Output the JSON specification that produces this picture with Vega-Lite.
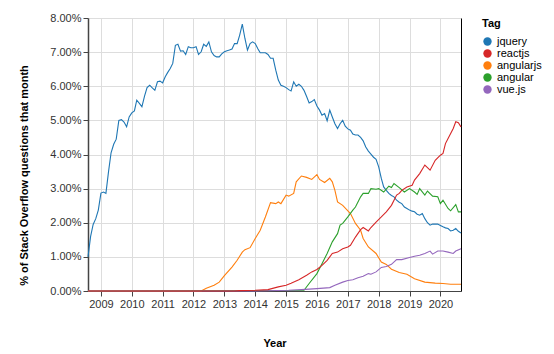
{
  "$schema": "https://vega.github.io/schema/vega-lite/v6.json",
  "width": 373,
  "height": 273,
  "autosize": "none",
  "padding": {"left": 88, "top": 18, "right": 93, "bottom": 63},
  "config": {
    "font": "Liberation Sans",
    "view": {"stroke": null},
    "axis": {
      "labelFontSize": 11,
      "titleFontSize": 11,
      "labelColor": "#333",
      "titleColor": "#000",
      "gridColor": "#ddd",
      "domainColor": "#444",
      "tickColor": "#444",
      "tickSize": 5,
      "labelPadding": 2
    },
    "legend": {
      "titleFontSize": 11,
      "labelFontSize": 11,
      "labelColor": "#000",
      "titleColor": "#000",
      "rowPadding": 0,
      "symbolSize": 70,
      "symbolType": "circle",
      "titlePadding": 7
    }
  },
  "data": {
    "values": [
      {"d":"2008-08","t":"jquery","v":1.0},{"d":"2008-09","t":"jquery","v":1.6},{"d":"2008-10","t":"jquery","v":1.95},{"d":"2008-11","t":"jquery","v":2.12},{"d":"2008-12","t":"jquery","v":2.37},
      {"d":"2009-01","t":"jquery","v":2.87},{"d":"2009-02","t":"jquery","v":2.9},{"d":"2009-03","t":"jquery","v":2.86},{"d":"2009-04","t":"jquery","v":3.5},{"d":"2009-05","t":"jquery","v":4.05},{"d":"2009-06","t":"jquery","v":4.3},{"d":"2009-07","t":"jquery","v":4.45},{"d":"2009-08","t":"jquery","v":5.0},{"d":"2009-09","t":"jquery","v":5.02},{"d":"2009-10","t":"jquery","v":4.95},{"d":"2009-11","t":"jquery","v":4.81},{"d":"2009-12","t":"jquery","v":5.1},
      {"d":"2010-01","t":"jquery","v":5.22},{"d":"2010-02","t":"jquery","v":5.28},{"d":"2010-03","t":"jquery","v":5.59},{"d":"2010-04","t":"jquery","v":5.5},{"d":"2010-05","t":"jquery","v":5.4},{"d":"2010-06","t":"jquery","v":5.71},{"d":"2010-07","t":"jquery","v":5.96},{"d":"2010-08","t":"jquery","v":6.03},{"d":"2010-09","t":"jquery","v":5.95},{"d":"2010-10","t":"jquery","v":5.88},{"d":"2010-11","t":"jquery","v":6.13},{"d":"2010-12","t":"jquery","v":6.15},
      {"d":"2011-01","t":"jquery","v":6.1},{"d":"2011-02","t":"jquery","v":6.28},{"d":"2011-03","t":"jquery","v":6.4},{"d":"2011-04","t":"jquery","v":6.52},{"d":"2011-05","t":"jquery","v":6.67},{"d":"2011-06","t":"jquery","v":7.2},{"d":"2011-07","t":"jquery","v":7.23},{"d":"2011-08","t":"jquery","v":7.03},{"d":"2011-09","t":"jquery","v":7.04},{"d":"2011-10","t":"jquery","v":6.93},{"d":"2011-11","t":"jquery","v":7.16},{"d":"2011-12","t":"jquery","v":7.13},
      {"d":"2012-01","t":"jquery","v":7.13},{"d":"2012-02","t":"jquery","v":7.16},{"d":"2012-03","t":"jquery","v":6.93},{"d":"2012-04","t":"jquery","v":7.01},{"d":"2012-05","t":"jquery","v":7.23},{"d":"2012-06","t":"jquery","v":7.17},{"d":"2012-07","t":"jquery","v":7.3},{"d":"2012-08","t":"jquery","v":7.01},{"d":"2012-09","t":"jquery","v":6.9},{"d":"2012-10","t":"jquery","v":6.86},{"d":"2012-11","t":"jquery","v":6.86},{"d":"2012-12","t":"jquery","v":6.95},
      {"d":"2013-01","t":"jquery","v":7.01},{"d":"2013-02","t":"jquery","v":7.04},{"d":"2013-03","t":"jquery","v":7.06},{"d":"2013-04","t":"jquery","v":7.09},{"d":"2013-05","t":"jquery","v":7.25},{"d":"2013-06","t":"jquery","v":7.25},{"d":"2013-07","t":"jquery","v":7.5},{"d":"2013-08","t":"jquery","v":7.82},{"d":"2013-09","t":"jquery","v":7.4},{"d":"2013-10","t":"jquery","v":7.06},{"d":"2013-11","t":"jquery","v":7.25},{"d":"2013-12","t":"jquery","v":7.3},
      {"d":"2014-01","t":"jquery","v":7.25},{"d":"2014-02","t":"jquery","v":7.1},{"d":"2014-03","t":"jquery","v":6.98},{"d":"2014-04","t":"jquery","v":6.98},{"d":"2014-05","t":"jquery","v":6.98},{"d":"2014-06","t":"jquery","v":6.93},{"d":"2014-07","t":"jquery","v":6.82},{"d":"2014-08","t":"jquery","v":6.82},{"d":"2014-09","t":"jquery","v":6.47},{"d":"2014-10","t":"jquery","v":6.18},{"d":"2014-11","t":"jquery","v":6.03},{"d":"2014-12","t":"jquery","v":6.0},
      {"d":"2015-01","t":"jquery","v":5.96},{"d":"2015-02","t":"jquery","v":5.9},{"d":"2015-03","t":"jquery","v":5.86},{"d":"2015-04","t":"jquery","v":6.13},{"d":"2015-05","t":"jquery","v":6.0},{"d":"2015-06","t":"jquery","v":6.06},{"d":"2015-07","t":"jquery","v":6.0},{"d":"2015-08","t":"jquery","v":5.88},{"d":"2015-09","t":"jquery","v":5.7},{"d":"2015-10","t":"jquery","v":5.51},{"d":"2015-11","t":"jquery","v":5.55},{"d":"2015-12","t":"jquery","v":5.61},
      {"d":"2016-01","t":"jquery","v":5.42},{"d":"2016-02","t":"jquery","v":5.3},{"d":"2016-03","t":"jquery","v":5.15},{"d":"2016-04","t":"jquery","v":5.2},{"d":"2016-05","t":"jquery","v":4.99},{"d":"2016-06","t":"jquery","v":5.3},{"d":"2016-07","t":"jquery","v":5.1},{"d":"2016-08","t":"jquery","v":4.9},{"d":"2016-09","t":"jquery","v":4.76},{"d":"2016-10","t":"jquery","v":4.9},{"d":"2016-11","t":"jquery","v":5.0},{"d":"2016-12","t":"jquery","v":4.83},
      {"d":"2017-01","t":"jquery","v":4.75},{"d":"2017-02","t":"jquery","v":4.71},{"d":"2017-03","t":"jquery","v":4.6},{"d":"2017-04","t":"jquery","v":4.57},{"d":"2017-05","t":"jquery","v":4.57},{"d":"2017-06","t":"jquery","v":4.5},{"d":"2017-07","t":"jquery","v":4.4},{"d":"2017-08","t":"jquery","v":4.22},{"d":"2017-09","t":"jquery","v":4.1},{"d":"2017-10","t":"jquery","v":4.01},{"d":"2017-11","t":"jquery","v":3.92},{"d":"2017-12","t":"jquery","v":3.86},
      {"d":"2018-01","t":"jquery","v":3.64},{"d":"2018-02","t":"jquery","v":3.3},{"d":"2018-03","t":"jquery","v":3.05},{"d":"2018-04","t":"jquery","v":2.95},{"d":"2018-05","t":"jquery","v":2.86},{"d":"2018-06","t":"jquery","v":2.8},{"d":"2018-07","t":"jquery","v":2.76},{"d":"2018-08","t":"jquery","v":2.66},{"d":"2018-09","t":"jquery","v":2.6},{"d":"2018-10","t":"jquery","v":2.56},{"d":"2018-11","t":"jquery","v":2.46},{"d":"2018-12","t":"jquery","v":2.42},
      {"d":"2019-01","t":"jquery","v":2.37},{"d":"2019-02","t":"jquery","v":2.34},{"d":"2019-03","t":"jquery","v":2.32},{"d":"2019-04","t":"jquery","v":2.25},{"d":"2019-05","t":"jquery","v":2.22},{"d":"2019-06","t":"jquery","v":2.27},{"d":"2019-07","t":"jquery","v":2.12},{"d":"2019-08","t":"jquery","v":2.0},{"d":"2019-09","t":"jquery","v":1.93},{"d":"2019-10","t":"jquery","v":1.96},{"d":"2019-11","t":"jquery","v":1.96},{"d":"2019-12","t":"jquery","v":1.96},
      {"d":"2020-01","t":"jquery","v":1.92},{"d":"2020-02","t":"jquery","v":1.88},{"d":"2020-03","t":"jquery","v":1.85},{"d":"2020-04","t":"jquery","v":1.83},{"d":"2020-05","t":"jquery","v":1.76},{"d":"2020-06","t":"jquery","v":1.78},{"d":"2020-07","t":"jquery","v":1.83},{"d":"2020-08","t":"jquery","v":1.75},{"d":"2020-09","t":"jquery","v":1.7},

      {"d":"2008-08","t":"angularjs","v":0},{"d":"2012-04","t":"angularjs","v":0},{"d":"2012-06","t":"angularjs","v":0.08},{"d":"2012-09","t":"angularjs","v":0.17},{"d":"2012-11","t":"angularjs","v":0.26},{"d":"2013-01","t":"angularjs","v":0.45},{"d":"2013-04","t":"angularjs","v":0.7},{"d":"2013-06","t":"angularjs","v":0.9},{"d":"2013-08","t":"angularjs","v":1.14},{"d":"2013-09","t":"angularjs","v":1.21},{"d":"2013-11","t":"angularjs","v":1.27},{"d":"2014-01","t":"angularjs","v":1.54},{"d":"2014-03","t":"angularjs","v":1.78},{"d":"2014-05","t":"angularjs","v":2.17},{"d":"2014-07","t":"angularjs","v":2.59},{"d":"2014-09","t":"angularjs","v":2.56},{"d":"2014-10","t":"angularjs","v":2.61},{"d":"2014-11","t":"angularjs","v":2.56},{"d":"2015-01","t":"angularjs","v":2.81},{"d":"2015-02","t":"angularjs","v":2.78},{"d":"2015-04","t":"angularjs","v":2.86},{"d":"2015-05","t":"angularjs","v":3.2},{"d":"2015-07","t":"angularjs","v":3.37},{"d":"2015-09","t":"angularjs","v":3.33},{"d":"2015-11","t":"angularjs","v":3.27},{"d":"2016-01","t":"angularjs","v":3.41},{"d":"2016-02","t":"angularjs","v":3.27},{"d":"2016-04","t":"angularjs","v":3.18},{"d":"2016-06","t":"angularjs","v":3.3},{"d":"2016-07","t":"angularjs","v":3.2},{"d":"2016-08","t":"angularjs","v":2.95},{"d":"2016-09","t":"angularjs","v":2.61},{"d":"2016-11","t":"angularjs","v":2.51},{"d":"2017-02","t":"angularjs","v":2.27},{"d":"2017-04","t":"angularjs","v":1.98},{"d":"2017-06","t":"angularjs","v":1.78},{"d":"2017-07","t":"angularjs","v":1.54},{"d":"2017-09","t":"angularjs","v":1.29},{"d":"2017-12","t":"angularjs","v":1.1},{"d":"2018-02","t":"angularjs","v":0.85},{"d":"2018-04","t":"angularjs","v":0.78},{"d":"2018-06","t":"angularjs","v":0.64},{"d":"2018-09","t":"angularjs","v":0.54},{"d":"2018-12","t":"angularjs","v":0.49},{"d":"2019-03","t":"angularjs","v":0.36},{"d":"2019-07","t":"angularjs","v":0.26},{"d":"2019-11","t":"angularjs","v":0.23},{"d":"2020-02","t":"angularjs","v":0.22},{"d":"2020-05","t":"angularjs","v":0.2},{"d":"2020-09","t":"angularjs","v":0.2},

      {"d":"2008-08","t":"angular","v":0},{"d":"2015-08","t":"angular","v":0.02},{"d":"2015-10","t":"angular","v":0.22},{"d":"2016-01","t":"angular","v":0.51},{"d":"2016-03","t":"angular","v":0.8},{"d":"2016-05","t":"angular","v":1.1},{"d":"2016-07","t":"angular","v":1.44},{"d":"2016-09","t":"angular","v":1.68},{"d":"2016-10","t":"angular","v":1.93},{"d":"2016-11","t":"angular","v":1.98},{"d":"2017-01","t":"angular","v":2.17},{"d":"2017-03","t":"angular","v":2.37},{"d":"2017-04","t":"angular","v":2.46},{"d":"2017-06","t":"angular","v":2.76},{"d":"2017-07","t":"angular","v":2.86},{"d":"2017-09","t":"angular","v":2.86},{"d":"2017-10","t":"angular","v":3.0},{"d":"2017-12","t":"angular","v":2.98},{"d":"2018-01","t":"angular","v":3.0},{"d":"2018-03","t":"angular","v":2.9},{"d":"2018-05","t":"angular","v":3.07},{"d":"2018-06","t":"angular","v":3.03},{"d":"2018-07","t":"angular","v":3.15},{"d":"2018-09","t":"angular","v":3.03},{"d":"2018-11","t":"angular","v":2.9},{"d":"2019-01","t":"angular","v":3.0},{"d":"2019-03","t":"angular","v":2.9},{"d":"2019-04","t":"angular","v":2.83},{"d":"2019-05","t":"angular","v":3.0},{"d":"2019-07","t":"angular","v":2.81},{"d":"2019-08","t":"angular","v":2.93},{"d":"2019-10","t":"angular","v":2.78},{"d":"2019-12","t":"angular","v":2.76},{"d":"2020-01","t":"angular","v":2.56},{"d":"2020-02","t":"angular","v":2.66},{"d":"2020-04","t":"angular","v":2.42},{"d":"2020-05","t":"angular","v":2.35},{"d":"2020-07","t":"angular","v":2.53},{"d":"2020-08","t":"angular","v":2.32},{"d":"2020-09","t":"angular","v":2.32},

      {"d":"2008-08","t":"vue.js","v":0},{"d":"2014-01","t":"vue.js","v":0},{"d":"2015-02","t":"vue.js","v":0.02},{"d":"2015-07","t":"vue.js","v":0.04},{"d":"2016-01","t":"vue.js","v":0.07},{"d":"2016-06","t":"vue.js","v":0.1},{"d":"2016-08","t":"vue.js","v":0.17},{"d":"2016-11","t":"vue.js","v":0.26},{"d":"2017-01","t":"vue.js","v":0.31},{"d":"2017-03","t":"vue.js","v":0.33},{"d":"2017-05","t":"vue.js","v":0.39},{"d":"2017-07","t":"vue.js","v":0.43},{"d":"2017-09","t":"vue.js","v":0.51},{"d":"2017-10","t":"vue.js","v":0.49},{"d":"2017-12","t":"vue.js","v":0.56},{"d":"2018-02","t":"vue.js","v":0.69},{"d":"2018-04","t":"vue.js","v":0.72},{"d":"2018-06","t":"vue.js","v":0.78},{"d":"2018-08","t":"vue.js","v":0.92},{"d":"2018-10","t":"vue.js","v":0.92},{"d":"2019-01","t":"vue.js","v":0.98},{"d":"2019-03","t":"vue.js","v":1.02},{"d":"2019-05","t":"vue.js","v":1.05},{"d":"2019-07","t":"vue.js","v":1.1},{"d":"2019-09","t":"vue.js","v":1.17},{"d":"2019-10","t":"vue.js","v":1.08},{"d":"2019-12","t":"vue.js","v":1.17},{"d":"2020-02","t":"vue.js","v":1.17},{"d":"2020-04","t":"vue.js","v":1.14},{"d":"2020-06","t":"vue.js","v":1.1},{"d":"2020-07","t":"vue.js","v":1.17},{"d":"2020-09","t":"vue.js","v":1.24},

      {"d":"2008-08","t":"reactjs","v":0},{"d":"2013-05","t":"reactjs","v":0},{"d":"2013-07","t":"reactjs","v":0.01},{"d":"2014-01","t":"reactjs","v":0.02},{"d":"2014-06","t":"reactjs","v":0.04},{"d":"2014-10","t":"reactjs","v":0.12},{"d":"2015-01","t":"reactjs","v":0.17},{"d":"2015-03","t":"reactjs","v":0.23},{"d":"2015-06","t":"reactjs","v":0.33},{"d":"2015-09","t":"reactjs","v":0.46},{"d":"2015-11","t":"reactjs","v":0.56},{"d":"2016-01","t":"reactjs","v":0.63},{"d":"2016-03","t":"reactjs","v":0.75},{"d":"2016-05","t":"reactjs","v":0.9},{"d":"2016-07","t":"reactjs","v":1.1},{"d":"2016-09","t":"reactjs","v":1.14},{"d":"2016-11","t":"reactjs","v":1.24},{"d":"2017-01","t":"reactjs","v":1.29},{"d":"2017-02","t":"reactjs","v":1.34},{"d":"2017-04","t":"reactjs","v":1.58},{"d":"2017-06","t":"reactjs","v":1.8},{"d":"2017-07","t":"reactjs","v":1.86},{"d":"2017-09","t":"reactjs","v":1.76},{"d":"2017-10","t":"reactjs","v":1.86},{"d":"2017-12","t":"reactjs","v":2.02},{"d":"2018-02","t":"reactjs","v":2.17},{"d":"2018-04","t":"reactjs","v":2.32},{"d":"2018-06","t":"reactjs","v":2.51},{"d":"2018-08","t":"reactjs","v":2.81},{"d":"2018-09","t":"reactjs","v":2.86},{"d":"2018-10","t":"reactjs","v":2.95},{"d":"2018-12","t":"reactjs","v":3.05},{"d":"2019-02","t":"reactjs","v":3.1},{"d":"2019-03","t":"reactjs","v":3.25},{"d":"2019-05","t":"reactjs","v":3.44},{"d":"2019-07","t":"reactjs","v":3.69},{"d":"2019-09","t":"reactjs","v":3.54},{"d":"2019-11","t":"reactjs","v":3.83},{"d":"2020-01","t":"reactjs","v":3.98},{"d":"2020-02","t":"reactjs","v":4.03},{"d":"2020-03","t":"reactjs","v":4.32},{"d":"2020-04","t":"reactjs","v":4.47},{"d":"2020-06","t":"reactjs","v":4.76},{"d":"2020-07","t":"reactjs","v":4.96},{"d":"2020-08","t":"reactjs","v":4.93},{"d":"2020-09","t":"reactjs","v":4.81}
    ]
  },
  "layer": [
    {
      "mark": {"type": "line", "strokeWidth": 1.1},
      "encoding": {
        "x": {
          "field": "d", "type": "temporal", "title": "Year",
          "scale": {"nice": false},
          "axis": {"format": "%Y", "tickCount": {"interval": "year", "step": 1}, "titlePadding": 28, "domainColor": "#444", "labelFlush": false}
        },
        "y": {
          "field": "v", "type": "quantitative",
          "title": "% of Stack Overflow questions that month",
          "scale": {"domain": [0, 8]},
          "axis": {"tickCount": 8, "labelExpr": "format(datum.value, '.2f') + '%'", "titlePadding": 20, "titleY": 157, "domainWidth": 1.5}
        },
        "color": {
          "field": "t", "type": "nominal", "title": "Tag",
          "scale": {"domain": ["jquery", "reactjs", "angularjs", "angular", "vue.js"], "range": ["#1f77b4", "#d62728", "#ff7f0e", "#2ca02c", "#9467bd"]},
          "legend": {
            "symbolType": "circle",
            "encoding": {
              "symbols": {
                "fill": {"value": {"signal": "scale('color', datum.value)"}},
                "fillOpacity": {"value": 1},
                "strokeWidth": {"value": 0}
              }
            }
          }
        }
      }
    },
    {
      "mark": {"type": "line", "opacity": 0},
      "encoding": {
        "x": {"field": "d", "type": "temporal"},
        "y": {
          "field": "v", "type": "quantitative",
          "axis": {"orient": "right", "labels": false, "ticks": false, "grid": false, "title": null, "domainColor": "#000"}
        },
        "detail": {"field": "t", "type": "nominal"}
      }
    }
  ],
  "resolve": {"axis": {"y": "independent"}}
}
